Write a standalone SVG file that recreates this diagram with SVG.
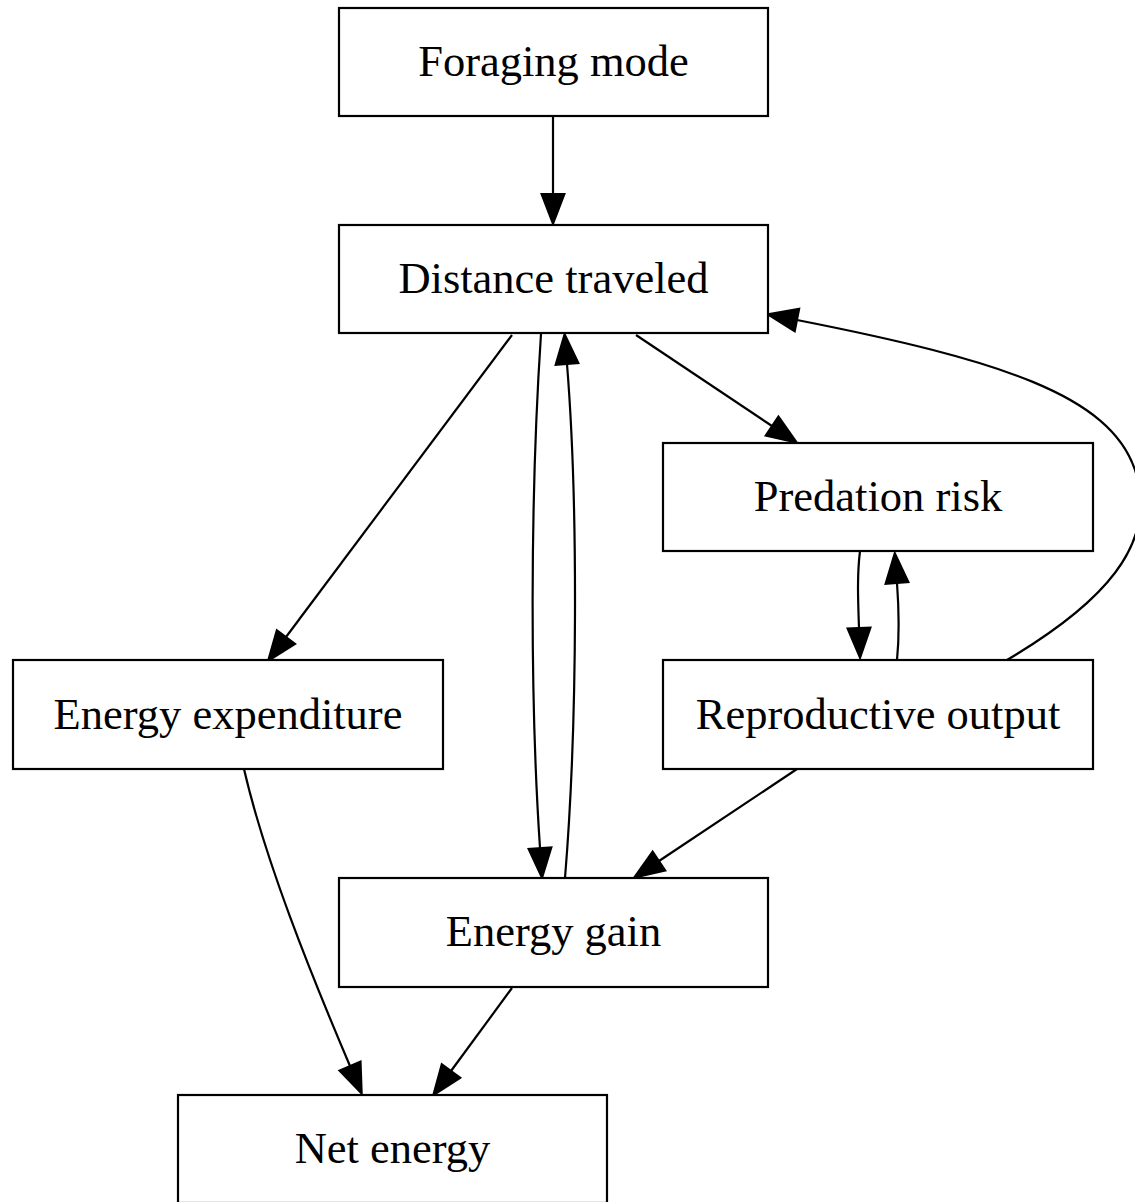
<svg xmlns="http://www.w3.org/2000/svg" width="1135" height="1202" viewBox="0 0 1135 1202">
<style>
.box{fill:#fff;stroke:#000;stroke-width:2.2}
.lbl{font-family:"Liberation Serif","Times New Roman",serif;font-size:44.5px;text-anchor:middle;fill:#000}
.edge{fill:none;stroke:#000;stroke-width:2.2;marker-end:url(#ah)}
</style>
<defs>
<marker id="ah" markerUnits="userSpaceOnUse" viewBox="-1 -13 33 26" markerWidth="33" markerHeight="26" refX="0" refY="0" orient="auto" overflow="visible">
<path d="M0,-11.5 L30,0 L0,11.5 Z" fill="#000" stroke="#000" stroke-width="2"/>
</marker>
</defs>
<rect width="1135" height="1202" fill="#fff"/>
<g id="edges">
<path class="edge" d="M553,116 L553,194"/>
<path class="edge" d="M512,335 L286,637"/>
<path class="edge" d="M541,334 C530,500 530,700 540,848"/>
<path class="edge" d="M565,878 C578,720 578,500 567,364"/>
<path class="edge" d="M636,335 L772,426"/>
<path class="edge" d="M1007,660 C1100,605 1160,545 1135,470 C1110,395 1000,360 797,320"/>
<path class="edge" d="M860,551 C857,575 858,600 859,628"/>
<path class="edge" d="M897,660 C899,640 899,610 897,583"/>
<path class="edge" d="M797,769 L659,861"/>
<path class="edge" d="M244,769 C265,860 310,972 350,1066"/>
<path class="edge" d="M512,988 L451,1071"/>
</g>
<g id="foraging_mode"><rect class="box" x="339" y="8" width="429" height="108"/><text class="lbl" x="553.5" y="76">Foraging mode</text></g>
<g id="distance_traveled"><rect class="box" x="339" y="225" width="429" height="108"/><text class="lbl" x="553.5" y="293">Distance traveled</text></g>
<g id="predation_risk"><rect class="box" x="663" y="443" width="430" height="108"/><text class="lbl" x="878" y="511">Predation risk</text></g>
<g id="energy_expenditure"><rect class="box" x="13" y="660" width="430" height="109"/><text class="lbl" x="228" y="729">Energy expenditure</text></g>
<g id="reproductive_output"><rect class="box" x="663" y="660" width="430" height="109"/><text class="lbl" x="878" y="729">Reproductive output</text></g>
<g id="energy_gain"><rect class="box" x="339" y="878" width="429" height="109"/><text class="lbl" x="553.5" y="946">Energy gain</text></g>
<g id="net_energy"><rect class="box" x="178" y="1095" width="429" height="108"/><text class="lbl" x="392.5" y="1163">Net energy</text></g>
</svg>
